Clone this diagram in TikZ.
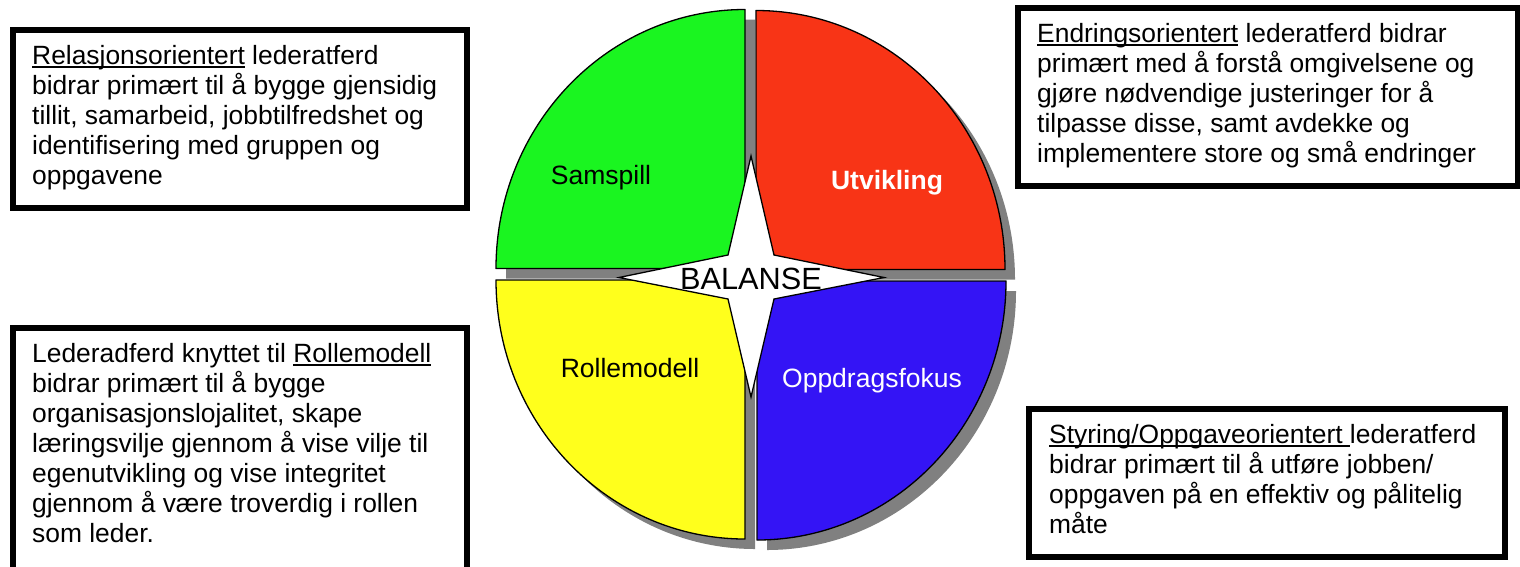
\documentclass[tikz,border=0pt]{standalone}
\usepackage{fontspec}
\setmainfont{Liberation Sans}
\newcommand{\myul}[1]{\setbox0\hbox{#1}\rlap{\rule[-3.8pt]{\wd0}{1.6pt}}\box0\relax}
\definecolor{qgreen}{RGB}{26,245,32}
\definecolor{qred}{RGB}{248,52,22}
\definecolor{qyellow}{RGB}{255,255,28}
\definecolor{qblue}{RGB}{52,20,245}
\definecolor{shadowgray}{RGB}{128,128,128}
\begin{document}
\begin{tikzpicture}[x=1pt,y=-1pt,
  tbox/.style={draw=black, line width=6pt, fill=white, anchor=north west, inner sep=0pt},
  txt/.style={anchor=north west, inner sep=0pt, align=left, font=\fontsize{26.4}{30}\selectfont},
  quad/.style={draw=black, line width=1.3pt, line join=round},
  shade/.style={fill=shadowgray},
  qlabel/.style={anchor=base, inner sep=0pt, font=\fontsize{26.5}{30}\selectfont},
  starshape/.style={draw=black, fill=white, line width=1.3pt, line join=miter}]
\useasboundingbox (0,0) rectangle (1520,566);
\clip (0,0) rectangle (1520,566);

% text boxes
\node[tbox, minimum width=454pt, minimum height=178pt] (b1) at (10,27) {};
\node[txt] (t1) at (32,44.8) {\myul{Relasjonsorientert} lederatferd\\
bidrar primært til å bygge gjensidig\\
tillit, samarbeid, jobbtilfredshet og\\
identifisering med gruppen og\\
oppgavene};

\node[tbox, minimum width=500pt, minimum height=178pt] (b2) at (1015,5) {};
\node[txt] (t2) at (1037,22.8) {\myul{Endringsorientert} lederatferd bidrar\\
primært med å forstå omgivelsene og\\
gjøre nødvendige justeringer for å\\
tilpasse disse, samt avdekke og\\
implementere store og små endringer};

\node[tbox, minimum width=454pt, minimum height=260pt] (b3) at (10,325) {};
\node[txt] (t3) at (32,342.8) {Lederadferd knyttet til \myul{Rollemodell}\\
bidrar primært til å bygge\\
organisasjonslojalitet, skape\\
læringsvilje gjennom å vise vilje til\\
egenutvikling og vise integritet\\
gjennom å være troverdig i rollen\\
som leder.};

\node[tbox, minimum width=476pt, minimum height=148pt] (b4) at (1026,406) {};
\node[txt] (t4) at (1049,423.8) {\myul{Styring/Oppgaveorientert\ }lederatferd\\
bidrar primært til å utføre jobben/\\
oppgaven på en effektiv og pålitelig\\
måte};

% shadows
\begin{scope}[shift={(10,10)}]
\fill[shade] (745,268.5) -- (496,268.5) arc[start angle=180, end angle=90, x radius=249pt, y radius=259pt] -- cycle;
\fill[shade] (756,269.5) -- (756,10.5) arc[start angle=90, end angle=0, x radius=249pt, y radius=259pt] -- cycle;
\fill[shade] (745,280) -- (496,280) arc[start angle=180, end angle=270, x radius=249pt, y radius=259pt] -- cycle;
\fill[shade] (757,281) -- (1006,281) arc[start angle=0, end angle=-90, x radius=249pt, y radius=259pt] -- cycle;
\end{scope}

% quadrants
\draw[quad, fill=qgreen] (745,268.5) -- (496,268.5) arc[start angle=180, end angle=90, x radius=249pt, y radius=259pt] -- cycle;
\draw[quad, fill=qred] (756,269.5) -- (756,10.5) arc[start angle=90, end angle=0, x radius=249pt, y radius=259pt] -- cycle;
\draw[quad, fill=qyellow] (745,280) -- (496,280) arc[start angle=180, end angle=270, x radius=249pt, y radius=259pt] -- cycle;
\draw[quad, fill=qblue] (757,281) -- (1006,281) arc[start angle=0, end angle=-90, x radius=249pt, y radius=259pt] -- cycle;

% star
\draw[starshape] (751,156) -- (774,255) -- (884,277.5) -- (774,299) -- (751,397) -- (728,299) -- (619,277.5) -- (728,255) -- cycle;
\node[anchor=base, inner sep=0pt, font=\fontsize{30.7}{34}\selectfont] (bal) at (751,289) {BALANSE};

% quadrant labels
\node[qlabel] (sam) at (601,184) {Samspill};
\node[qlabel, text=white, font=\fontsize{26.5}{30}\selectfont\bfseries] (utv) at (887,189.5) {Utvikling};
\node[qlabel] (rol) at (630,377) {Rollemodell};
\node[qlabel, text=white] (opp) at (872,387) {Oppdragsfokus};
\end{tikzpicture}
\end{document}
